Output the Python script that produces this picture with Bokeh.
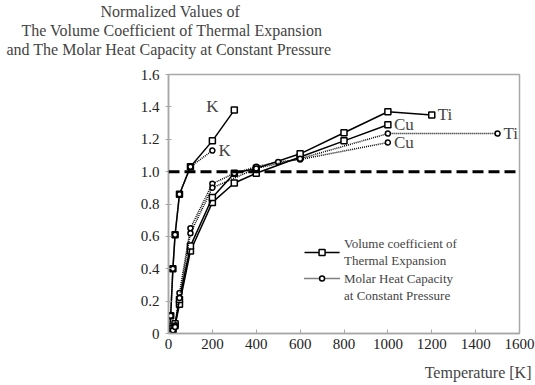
from bokeh.plotting import figure
from bokeh.models import Label, Range1d, FixedTicker, Span, Title
from bokeh.embed import file_html
from bokeh.resources import INLINE

# ---- data ----
k_vol_T = [5, 10, 20, 30, 50, 100, 200, 300]
k_vol = [0.02, 0.11, 0.40, 0.61, 0.86, 1.03, 1.19, 1.38]
k_cp_T = [5, 10, 20, 30, 50, 100, 200]
k_cp = [0.02, 0.11, 0.40, 0.61, 0.86, 1.03, 1.13]

cu_vol_T = [10, 20, 30, 50, 100, 200, 300, 400, 600, 800, 1000]
cu_vol = [0.01, 0.02, 0.05, 0.18, 0.51, 0.81, 0.93, 0.99, 1.09, 1.19, 1.29]
ti_vol_T = [10, 20, 30, 50, 100, 200, 300, 400, 600, 800, 1000, 1200]
ti_vol = [0.01, 0.03, 0.06, 0.21, 0.54, 0.84, 0.99, 1.02, 1.11, 1.24, 1.37, 1.35]

cu_cp_T = [10, 20, 30, 50, 100, 200, 300, 400, 500, 600, 1000]
cu_cp = [0.0, 0.02, 0.05, 0.25, 0.65, 0.925, 0.99, 1.03, 1.06, 1.075, 1.18]
ti_cp_T = [10, 20, 30, 50, 100, 200, 400, 600, 1000, 1500]
ti_cp = [0.0, 0.02, 0.04, 0.22, 0.62, 0.90, 1.02, 1.08, 1.235, 1.235]

x_ticks = [0, 200, 400, 600, 800, 1000, 1200, 1400, 1600]
y_ticks = [0, 0.2, 0.4, 0.6, 0.8, 1.0, 1.2, 1.4, 1.6]
y_tick_labels = ["0", "0.2", "0.4", "0.6", "0.8", "1.0", "1.2", "1.4", "1.6"]

title_lines = ["Normalized Values of",
               "The Volume Coefficient of Thermal Expansion",
               "and The Molar Heat Capacity at Constant Pressure"]
x_label = "Temperature [K]"

series_labels = [("K", 300, 1.38), ("K", 200, 1.13), ("Ti", 1200, 1.35),
                 ("Cu", 1000, 1.29), ("Ti", 1500, 1.235), ("Cu", 1000, 1.18)]

legend_texts = ["Volume coefficient of", "Thermal Expansion",
                "Molar Heat Capacity", "at Constant Pressure"]

FONT = "Liberation Serif"
GRAY = "#a8a8a8"

p = figure(width=535, height=385, output_backend="svg", toolbar_location=None,
           x_range=Range1d(0, 1600), y_range=Range1d(0, 1.6),
           min_border_left=168, min_border_right=16, min_border_top=72,
           min_border_bottom=52)
p.xgrid.visible = False
p.ygrid.visible = False
p.outline_line_color = GRAY
p.outline_line_width = 1.5

for ax in (p.xaxis[0], p.yaxis[0]):
    ax.axis_line_color = GRAY
    ax.axis_line_width = 1.5
    ax.major_tick_line_color = GRAY
    ax.minor_tick_line_color = None
    ax.major_label_text_font = FONT
    ax.major_label_text_font_size = "15px"
    ax.major_label_text_color = "#222222"

p.xaxis.ticker = FixedTicker(ticks=x_ticks)
p.yaxis.ticker = FixedTicker(ticks=y_ticks)
p.yaxis.major_label_overrides = {t: l for t, l in zip(y_ticks, y_tick_labels)}
p.xaxis.major_tick_in = 4
p.xaxis.major_tick_out = 0
p.yaxis.major_tick_in = 3
p.yaxis.major_tick_out = 3
p.xaxis.major_label_standoff = 5
p.yaxis.major_label_standoff = 6

p.add_layout(Span(location=1.0, dimension="width", line_color="black",
                  line_width=3, line_dash="11 5"))

def vol(xs, ys):
    p.line(xs, ys, line_color="black", line_width=1.5)
    p.scatter(xs, ys, marker="square", size=6, fill_color="white",
              line_color="black", line_width=1.5)

def cp(xs, ys):
    p.line(xs, ys, line_color="black", line_width=1.5, line_dash="1 1")
    p.scatter(xs, ys, marker="circle", size=5, fill_color="white",
              line_color="black", line_width=1.5)

vol(k_vol_T, k_vol)
cp(k_cp_T, k_cp)
vol(cu_vol_T, cu_vol)
vol(ti_vol_T, ti_vol)
cp(cu_cp_T, cu_cp)
cp(ti_cp_T, ti_cp)

# series labels
for i, (t, x, y) in enumerate(series_labels):
    if i == 0:
        lab = Label(x=x, y=y, text=t, x_offset=-28, y_offset=4, text_font=FONT,
                    text_font_size="17px", text_baseline="middle")
    else:
        lab = Label(x=x, y=y, text=t, x_offset=6, y_offset=0, text_font=FONT,
                    text_font_size="17px", text_baseline="middle")
    p.add_layout(lab)

# manual legend
lx0, lx1, lxm = 620, 780, 700
ly1, ly2 = 0.50, 0.34
p.line([lx0, lx1], [ly1, ly1], line_color="black", line_width=1.5)
p.scatter([lxm], [ly1], marker="square", size=6, fill_color="white",
          line_color="black", line_width=1.5)
p.line([lx0, lx1], [ly2, ly2], line_color="black", line_width=1.5, line_dash="1 1")
p.scatter([lxm], [ly2], marker="circle", size=5, fill_color="white",
          line_color="black", line_width=1.5)
for txt, yy in zip(legend_texts, [0.555, 0.448, 0.342, 0.235]):
    p.add_layout(Label(x=800, y=yy, text=txt, text_font=FONT,
                       text_font_size="13px", text_baseline="middle"))

# spacer between frame and title block
p.add_layout(Title(text=" ", text_font=FONT, text_font_size="13px", standoff=0),
             "above")
# title lines (added bottom-up so the first line ends on top)
title_offsets = [-68, -147, -162]
for t, off in reversed(list(zip(title_lines, title_offsets))):
    p.add_layout(Title(text=t, align="left", offset=off, text_font=FONT,
                       text_font_size="16px", text_font_style="normal",
                       standoff=0), "above")

p.add_layout(Title(text=" ", text_font=FONT, text_font_size="7px", standoff=0),
             "below")
p.add_layout(Title(text=x_label, align="right", offset=-12, text_font=FONT,
                   text_font_size="16px", text_font_style="normal",
                   standoff=0), "below")

open("out.html", "w").write(file_html(p, INLINE))
